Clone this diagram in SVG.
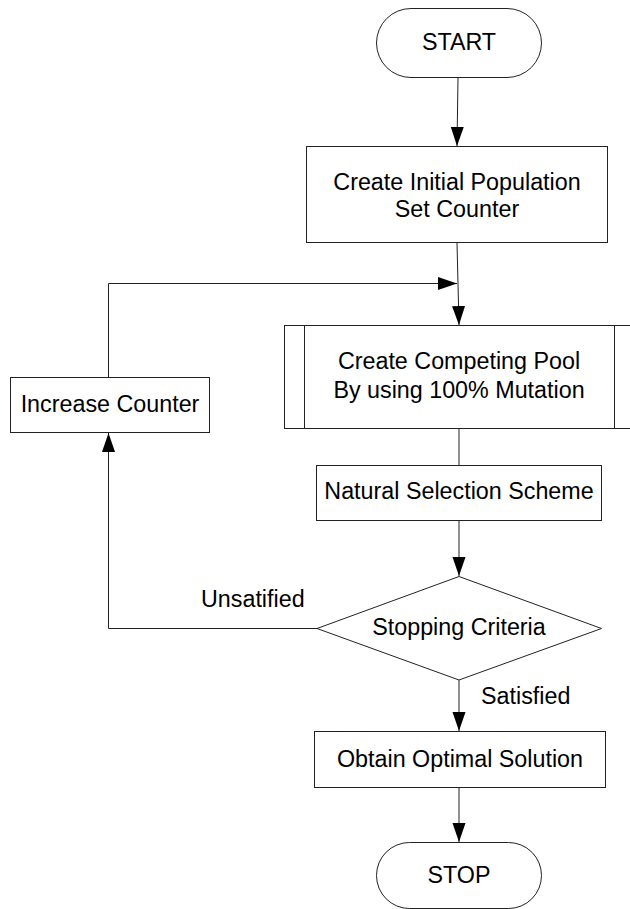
<svg xmlns="http://www.w3.org/2000/svg" width="630" height="909" viewBox="0 0 630 909">
<defs>
<marker id="arr" markerUnits="userSpaceOnUse" markerWidth="20" markerHeight="14" refX="19" refY="6.5" orient="auto">
<path d="M0,0 L19,6.5 L0,13 Z" fill="#000"/>
</marker>
<style>
.s{fill:#fff;stroke:#222;stroke-width:1}
.c{fill:none;stroke:#222;stroke-width:1}
.t{font-family:"Liberation Sans",Arial,sans-serif;font-size:23.3px;fill:#000;text-anchor:middle}
.l{font-family:"Liberation Sans",Arial,sans-serif;font-size:23.3px;fill:#000}
</style>
</defs>
<rect width="630" height="909" fill="#fff"/>
<g id="connectors">
<path class="c" d="M458,77.5 L457,146" marker-end="url(#arr)"/>
<path class="c" d="M457,242.5 L459,325" marker-end="url(#arr)"/>
<path class="c" d="M108.5,377 L108.5,283.5 L457,283.5" marker-end="url(#arr)"/>
<path class="c" d="M459,428 L459,465"/>
<path class="c" d="M459,520 L459,576" marker-end="url(#arr)"/>
<path class="c" d="M317,628.5 L108.5,628.5 L108.5,433" marker-end="url(#arr)"/>
<path class="c" d="M459,680 L459,731" marker-end="url(#arr)"/>
<path class="c" d="M459,787 L459,842" marker-end="url(#arr)"/>
<text class="l" x="201" y="607">Unsatified</text>
<text class="l" x="481" y="704">Satisfied</text>
</g>
<g id="start">
<rect class="s" x="376.5" y="8.5" width="165" height="69" rx="34.5" ry="34.5"/>
<text class="t" x="459" y="50">START</text>
</g>
<g id="init">
<rect class="s" x="306.5" y="146.5" width="301" height="96"/>
<text class="t" x="457" y="190">Create Initial Population</text>
<text class="t" x="457" y="217">Set Counter</text>
</g>
<g id="pool">
<rect class="s" x="284.5" y="325.5" width="350" height="103"/>
<line class="c" x1="304.5" y1="325.5" x2="304.5" y2="428.5"/>
<line class="c" x1="614.5" y1="325.5" x2="614.5" y2="428.5"/>
<text class="t" x="459" y="369">Create Competing Pool</text>
<text class="t" x="459" y="398">By using 100% Mutation</text>
</g>
<g id="increase">
<rect class="s" x="10.5" y="377.5" width="199" height="55"/>
<text class="t" x="110" y="412">Increase Counter</text>
</g>
<g id="selection">
<rect class="s" x="316.5" y="465.5" width="285" height="55"/>
<text class="t" x="459" y="499">Natural Selection Scheme</text>
</g>
<g id="criteria">
<path class="s" d="M459,576.5 L601.5,628.5 L459,680 L317,628.5 Z"/>
<text class="t" x="459" y="635">Stopping Criteria</text>
</g>
<g id="optimal">
<rect class="s" x="314.5" y="731.5" width="291" height="56"/>
<text class="t" x="460" y="767">Obtain Optimal Solution</text>
</g>
<g id="stop">
<rect class="s" x="376.5" y="842.5" width="165" height="66" rx="33" ry="33"/>
<text class="t" x="459" y="883">STOP</text>
</g>
</svg>
